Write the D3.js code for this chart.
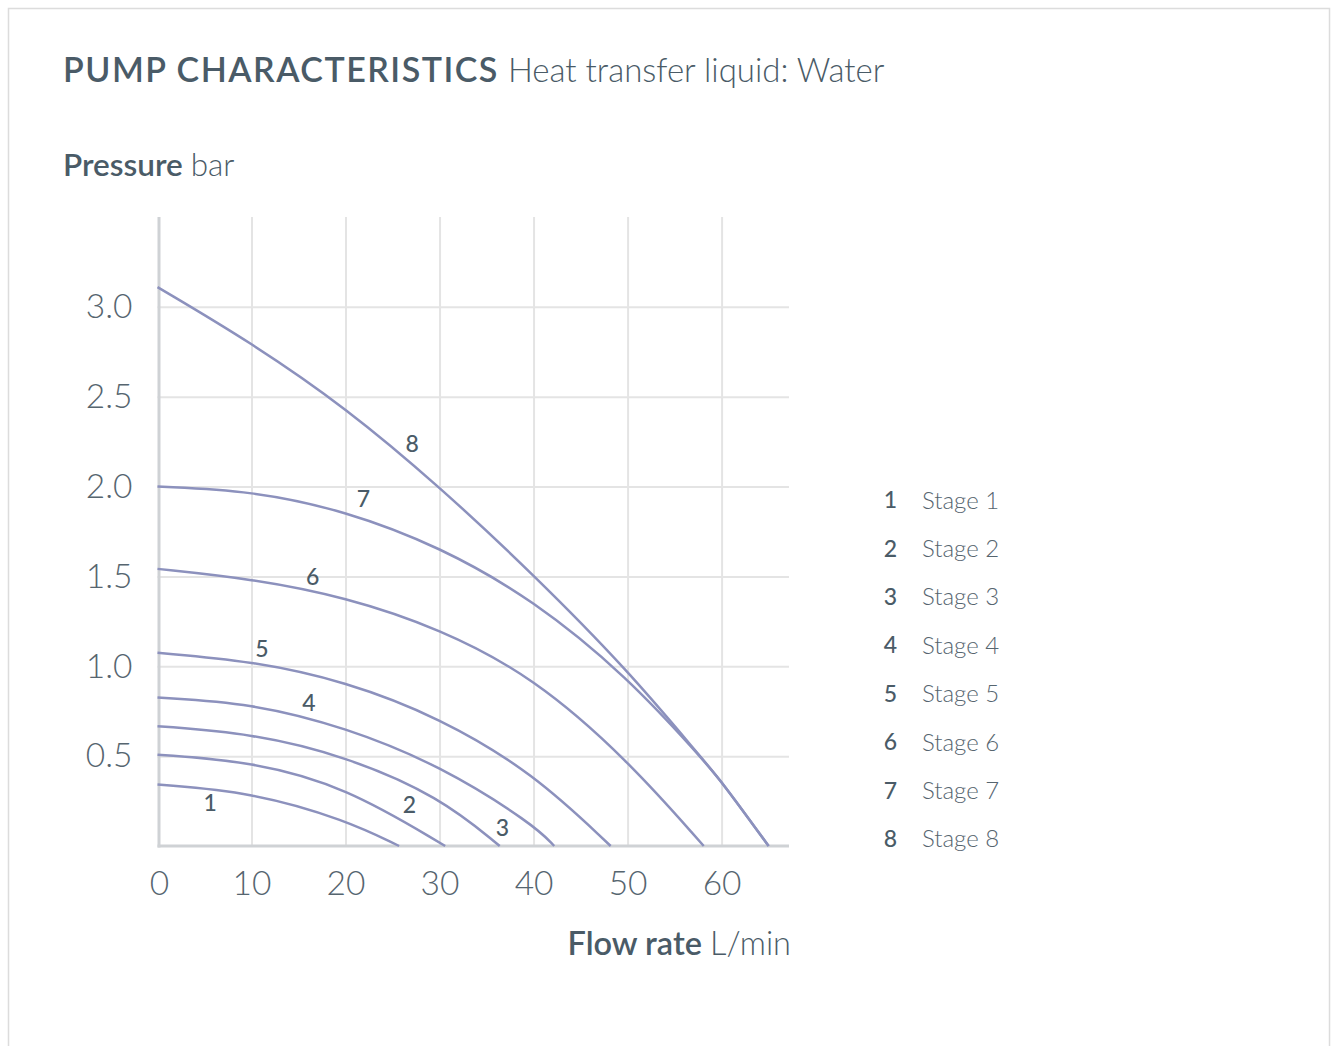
<!DOCTYPE html>
<html>
<head>
<meta charset="utf-8">
<script src="https://cdn.jsdelivr.net/npm/d3@7"></script>
<style>
  body { margin: 0; background: #fff; }
  svg { display: block; font-family: Lato, "Open Sans", sans-serif; }
</style>
</head>
<body>
<div id="chart"></div>
<script>
// pump curves: [flow L/min, pressure bar]
const stage1 = [[0, 0.342], [10, 0.30], [20, 0.145], [25.7, 0]];
const stage2 = [[0, 0.508], [10, 0.47], [20, 0.33], [30.6, 0]];
const stage3 = [[0, 0.667], [10, 0.627], [20, 0.50], [30, 0.274], [36.4, 0]];
const stage4 = [[0, 0.826], [10, 0.795], [20, 0.66], [30, 0.45], [40, 0.12], [42.2, 0]];
const stage5 = [[0, 1.075], [10, 1.03], [20, 0.916], [30, 0.715], [40, 0.405], [48.2, 0]];
const stage6 = [[0, 1.542], [10, 1.487], [20, 1.385], [30, 1.21], [40, 0.94], [50, 0.48], [58.1, 0]];
const stage7 = [[0, 2.0], [10, 1.977], [20, 1.865], [30, 1.666], [40, 1.37], [50, 0.94], [57.7, 0.5], [60, 0.36], [65, 0]];
const stage8 = [[0, 3.11], [10, 2.80], [20, 2.44], [30, 2.0], [40, 1.51], [50, 0.98], [57.7, 0.5], [60, 0.36], [65, 0]];

const stages = [stage1, stage2, stage3, stage4, stage5, stage6, stage7, stage8];
const stageNames = ["Stage 1", "Stage 2", "Stage 3", "Stage 4", "Stage 5", "Stage 6", "Stage 7", "Stage 8"];

// where the little numbers sit on the curves
const labelFlow = [5.6, 26.8, 36.7, 16.1, 11.1, 16.5, 21.9, 27.1];
const labelPressure = [0.24, 0.23, 0.10, 0.80, 1.10, 1.50, 1.93, 2.24];

const xTicks = [0, 10, 20, 30, 40, 50, 60];
const yTicks = [0.5, 1.0, 1.5, 2.0, 2.5, 3.0];

const W = 1336, H = 1046;
const x0 = 157.5, xEnd = 789;
const yTop = 217, yBase = 846;

const ink = "#4a5b67";
const tickInk = "#56656f";
const curveColor = "#8c91bd";

const svg = d3.select("#chart").append("svg")
    .attr("width", W)
    .attr("height", H);

// outer frame
svg.append("rect")
    .attr("x", 8.5).attr("y", 8.5)
    .attr("width", 1321).attr("height", 1200)
    .attr("fill", "none")
    .attr("stroke", "#dcdcdc")
    .attr("stroke-width", 1.5);

// titles
const title = svg.append("text")
    .attr("x", 63).attr("y", 82)
    .attr("fill", ink);
title.append("tspan")
    .attr("font-weight", 600)
    .style("font-size", "34px")
    .style("letter-spacing", "1.5px")
    .text("PUMP CHARACTERISTICS");
title.append("tspan")
    .attr("font-weight", 300)
    .attr("dx", 9)
    .style("font-size", "33px")
    .style("letter-spacing", "0px")
    .text("Heat transfer liquid: Water");

const yTitle = svg.append("text")
    .attr("x", 63).attr("y", 176)
    .attr("fill", ink)
    .style("font-size", "31.5px");
yTitle.append("tspan").attr("font-weight", 600).text("Pressure");
yTitle.append("tspan").attr("font-weight", 300).attr("dx", 8).text("bar");

const xTitle = svg.append("text")
    .attr("x", 791).attr("y", 955)
    .attr("text-anchor", "end")
    .attr("fill", ink)
    .style("font-size", "32.5px");
xTitle.append("tspan").attr("font-weight", 600).text("Flow rate");
xTitle.append("tspan").attr("font-weight", 300).attr("dx", 8).text("L/min");

const x = d3.scaleLinear().domain([0, 60]).range([x0, 721.6]);
const y = d3.scaleLinear().domain([0, 3.5]).range([yBase, yTop]);

// grid + tick labels
const gx = svg.append("g")
    .attr("transform", `translate(0,${yBase})`)
    .call(d3.axisBottom(x).tickValues(xTicks).tickSize(-(yBase - yTop)).tickPadding(25).tickFormat(d3.format("d")));
gx.select(".domain").remove();
gx.selectAll(".tick line")
    .attr("stroke", "#e4e4e4")
    .attr("stroke-width", 2)
    .attr("display", d => d === 0 ? "none" : null);
gx.selectAll(".tick text")
    .attr("fill", tickInk)
    .attr("font-weight", 300)
    .attr("dx", d => d === 0 ? 1.5 : 0)
    .style("font-size", "33.5px")
    .style("font-family", "Lato, sans-serif");

const gy = svg.append("g")
    .attr("transform", `translate(${x0},0)`)
    .call(d3.axisLeft(y).tickValues(yTicks).tickSize(-(xEnd - x0)).tickPadding(25).tickFormat(d3.format(".1f")));
gy.select(".domain").remove();
gy.selectAll(".tick line")
    .attr("stroke", "#e4e4e4")
    .attr("stroke-width", 2);
gy.selectAll(".tick text")
    .attr("fill", tickInk)
    .attr("font-weight", 300)
    .style("font-size", "33.5px")
    .style("font-family", "Lato, sans-serif");

// axis lines
svg.append("line")
    .attr("x1", x0 + 1.5).attr("x2", x0 + 1.5)
    .attr("y1", yTop).attr("y2", yBase + 1.5)
    .attr("stroke", "#cfd2d5").attr("stroke-width", 3);
svg.append("line")
    .attr("x1", x0).attr("x2", xEnd)
    .attr("y1", yBase).attr("y2", yBase)
    .attr("stroke", "#cfd2d5").attr("stroke-width", 3);

// curves
const line = d3.line()
    .x(d => x(d[0]))
    .y(d => y(d[1]))
    .curve(d3.curveBasis);

svg.append("g")
    .selectAll("path")
    .data(stages)
    .join("path")
    .attr("fill", "none")
    .attr("stroke", curveColor)
    .attr("stroke-width", 2.5)
    .attr("d", line);

// numbers on curves
svg.append("g")
    .selectAll("text")
    .data(labelFlow)
    .join("text")
    .attr("x", d => x(d))
    .attr("y", (d, i) => y(labelPressure[i]))
    .attr("dy", "0.36em")
    .attr("text-anchor", "middle")
    .attr("fill", ink)
    .attr("font-weight", 500)
    .style("font-size", "23px")
    .text((d, i) => i + 1);

// legend
const leg = svg.append("g")
    .selectAll("g")
    .data(stageNames)
    .join("g")
    .attr("transform", (d, i) => `translate(0,${500 + i * 48.4})`);

leg.append("text")
    .attr("x", 897)
    .attr("dy", "0.36em")
    .attr("text-anchor", "end")
    .attr("fill", ink)
    .attr("font-weight", 500)
    .style("font-size", "23px")
    .text((d, i) => i + 1);

leg.append("text")
    .attr("x", 922)
    .attr("dy", "0.36em")
    .attr("fill", tickInk)
    .attr("font-weight", 300)
    .style("font-size", "24px")
    .text(d => d);
</script>
</body>
</html>
